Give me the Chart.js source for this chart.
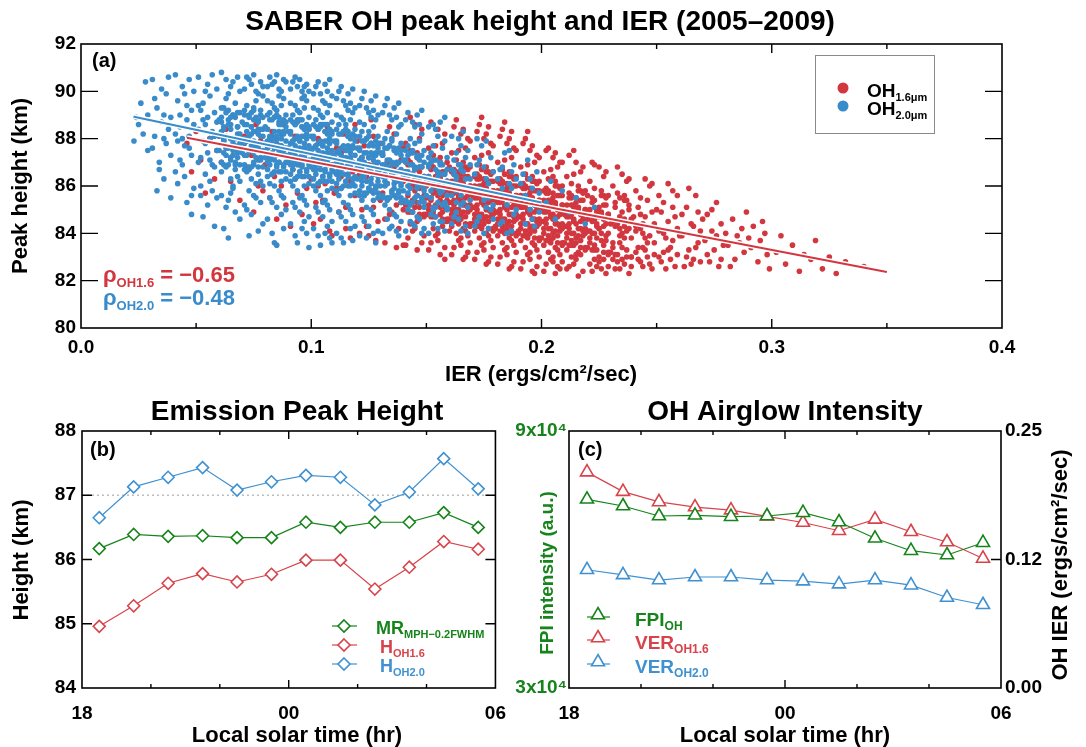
<!DOCTYPE html>
<html><head><meta charset="utf-8">
<script src="https://cdn.jsdelivr.net/npm/chart.js@4.4.1/dist/chart.umd.min.js"></script>
<style>
html,body{margin:0;padding:0;background:#fff;}
#wrap{position:relative;width:1086px;height:747px;overflow:hidden;background:#fff;}
canvas{position:absolute;}
</style></head><body><div id="wrap">
<canvas id="cA" width="1086" height="395" style="left:0;top:0"></canvas>
<canvas id="cB" width="520" height="367" style="left:0;top:380px"></canvas>
<canvas id="cC" width="574" height="367" style="left:512px;top:380px"></canvas>
</div>
<script>
// ---------------- DATA ----------------
// Panel (a): pairs of (IER in 1e-3 ergs/cm2/sec, peak height km)
const oh20Scatter = [23,87.9, 25,88.6, 26,89.5, 27,88.2, 28,90.4, 29,89.0, 29,87.5, 24,88.9,
31,90.5, 32,88.1, 33,89.3, 34,87.0, 35,88.7, 36,86.3, 37,89.9, 38,88.4, 31,87.6, 33,85.8, 35,90.1, 36,89.0, 37,87.8, 39,88.9, 34,86.7, 38,90.6, 39,87.3, 32,89.7, 36,88.0, 39,85.5,
41,88.2, 42,89.6, 43,87.1, 44,90.2, 45,86.4, 46,88.8, 47,87.6, 48,89.2, 49,85.9, 41,90.7, 42,87.9, 43,88.5, 44,86.9, 45,89.9, 46,85.3, 47,88.1, 48,87.3, 49,90.0, 41,86.6, 43,89.0, 45,87.7, 47,90.5, 48,85.6, 49,88.6, 42,86.1, 44,88.0, 46,89.4, 48,84.8,
51,88.4, 52,87.2, 53,89.5, 54,86.5, 55,90.3, 56,88.0, 57,85.8, 58,89.1, 59,87.5, 51,90.6, 52,86.0, 53,88.8, 54,87.8, 55,85.2, 56,89.8, 57,88.3, 58,86.8, 59,90.1, 51,87.0, 52,89.2, 53,84.7, 54,88.6, 55,87.4, 56,86.2, 57,90.7, 58,88.1, 59,85.5, 51,89.4, 53,87.9, 55,88.9, 57,86.9, 59,88.7, 52,85.6, 54,90.0, 56,87.1, 58,84.3,
61,88.3, 62,86.9, 63,89.7, 64,87.6, 65,85.7, 66,90.4, 67,88.0, 68,86.4, 69,89.1, 61,90.8, 62,87.9, 63,85.1, 64,88.8, 65,87.2, 66,86.0, 67,89.5, 68,88.5, 69,84.6, 61,86.6, 62,89.3, 63,88.1, 64,85.4, 65,90.2, 66,87.5, 67,86.7, 68,90.6, 69,87.8, 61,88.9, 62,84.2, 63,87.3, 64,89.9, 65,88.6, 66,85.9, 67,87.0, 68,88.2, 69,90.0, 61,85.6, 63,90.5, 65,86.3, 67,84.9, 69,86.2, 62,88.5, 64,83.8, 66,89.0, 68,87.4,
71,88.0, 72,89.4, 73,86.8, 74,90.3, 75,87.4, 76,85.5, 77,88.7, 78,86.2, 79,89.8, 71,87.3, 72,85.0, 73,88.9, 74,87.7, 75,90.7, 76,88.3, 77,86.5, 78,89.2, 79,84.4, 71,90.1, 72,87.9, 73,85.8, 74,88.5, 75,86.9, 76,89.6, 77,87.1, 78,88.1, 79,86.0, 71,85.2, 72,88.6, 73,90.5, 74,86.3, 75,88.8, 76,87.6, 77,84.1, 78,90.4, 79,87.8, 71,89.0, 72,86.6, 73,87.5, 74,84.8, 75,89.3, 76,86.1, 77,89.9, 78,87.2, 79,88.4, 71,86.7, 72,90.6, 73,83.9, 74,88.2, 75,85.6, 76,90.0, 77,88.4, 78,85.3, 79,90.2,
81,87.9, 82,89.1, 83,86.5, 84,90.4, 85,87.3, 86,88.6, 87,85.6, 88,89.7, 89,87.0, 81,88.4, 82,86.1, 83,89.5, 84,87.6, 85,85.1, 86,90.1, 87,88.2, 88,86.8, 89,89.0, 81,84.6, 82,88.8, 83,87.4, 84,86.0, 85,90.7, 86,87.0, 87,89.4, 88,84.2, 89,88.5, 81,90.2, 82,87.2, 83,85.3, 84,88.9, 85,88.0, 86,85.8, 87,87.7, 88,90.5, 89,86.3, 81,86.4, 82,90.6, 83,88.1, 84,83.6, 85,89.2, 86,86.6, 87,90.0, 88,87.5, 89,85.0, 81,89.6, 82,85.5, 83,90.3, 84,87.1, 85,86.9, 86,89.8, 87,84.8, 88,88.3, 89,90.4, 81,87.0, 82,88.0, 83,84.0, 84,89.3, 85,87.8, 86,88.9, 87,86.2, 88,85.5, 89,87.6, 85,83.5, 87,88.7,
91,87.8, 92,89.0, 93,86.3, 94,90.2, 95,87.2, 96,88.5, 97,85.4, 98,89.6, 99,86.9, 91,88.3, 92,86.0, 93,89.4, 94,87.5, 95,84.9, 96,90.0, 97,88.1, 98,86.6, 99,88.9, 91,84.4, 92,88.7, 93,87.3, 94,85.8, 95,90.5, 96,86.9, 97,89.3, 98,84.0, 99,88.4, 91,90.1, 92,87.1, 93,85.1, 94,88.8, 95,87.9, 96,85.6, 97,87.6, 98,90.3, 99,86.1, 91,86.2, 92,90.4, 93,88.0, 94,83.6, 95,89.1, 96,86.4, 97,89.8, 98,87.4, 99,84.7, 91,89.5, 92,85.3, 93,90.6, 94,86.9, 95,86.6, 96,89.7, 97,84.5, 98,88.2, 99,90.0, 91,86.9, 92,87.9, 93,83.9, 94,89.2, 95,87.6, 96,88.8, 97,86.0, 98,85.2, 99,87.5, 93,88.6, 95,85.5, 97,90.2, 99,83.4, 94,87.0, 96,84.2,
101,87.6, 102,88.8, 103,86.1, 104,89.9, 105,87.0, 106,88.3, 107,85.2, 108,89.4, 109,86.7, 101,88.1, 102,85.8, 103,89.2, 104,87.3, 105,84.7, 106,90.3, 107,87.9, 108,86.4, 109,88.7, 101,84.2, 102,88.5, 103,87.1, 104,85.6, 105,89.6, 106,86.7, 107,89.1, 108,83.8, 109,88.2, 101,89.9, 102,86.9, 103,84.9, 104,88.6, 105,87.7, 106,85.4, 107,87.4, 108,90.5, 109,85.9, 101,86.0, 102,90.2, 103,87.8, 104,83.5, 105,88.9, 106,86.2, 107,90.0, 108,87.2, 109,84.5, 101,89.3, 102,85.1, 103,90.4, 104,86.7, 105,86.4, 106,89.5, 107,84.3, 108,88.0, 109,89.8, 101,86.7, 102,87.7, 103,83.9, 104,89.0, 105,87.4, 106,88.6, 107,85.8, 108,85.0, 109,87.3, 103,88.4, 105,85.3, 107,88.6, 109,83.6, 104,86.9, 106,84.0,
111,87.4, 112,88.6, 113,85.9, 114,89.6, 115,86.8, 116,88.1, 117,85.0, 118,89.1, 119,86.4, 111,87.9, 112,85.6, 113,88.9, 114,87.1, 115,84.5, 116,89.9, 117,87.6, 118,86.1, 119,88.4, 111,84.0, 112,88.2, 113,86.9, 114,85.3, 115,89.4, 116,86.5, 117,88.8, 118,83.7, 119,87.9, 111,89.7, 112,86.7, 113,84.7, 114,88.3, 115,87.5, 116,85.2, 117,87.2, 118,90.1, 119,85.7, 111,85.8, 112,90.0, 113,87.6, 114,83.6, 115,88.6, 116,86.0, 117,89.5, 118,87.0, 119,84.3, 111,89.0, 112,84.9, 113,90.2, 114,86.5, 115,86.2, 116,89.2, 117,84.2, 118,87.7, 119,89.3, 111,86.5, 112,87.4, 113,83.8, 114,88.8, 115,87.2, 116,88.3, 117,85.6, 118,84.8,
121,87.1, 122,88.3, 123,85.7, 124,89.3, 125,86.6, 126,87.8, 127,84.8, 128,88.8, 129,86.2, 121,87.6, 122,85.4, 123,88.6, 124,86.9, 125,84.3, 126,89.6, 127,87.3, 128,85.9, 129,88.1, 121,83.9, 122,87.9, 123,86.6, 124,85.1, 125,89.1, 126,86.3, 127,88.5, 128,83.6, 129,87.6, 121,89.4, 122,86.4, 123,84.5, 124,88.0, 125,87.2, 126,85.0, 127,86.9, 128,89.8, 129,85.5, 121,85.6, 122,89.7, 123,87.4, 124,83.8, 125,88.3, 126,85.8, 127,89.2, 128,86.8, 129,84.1, 121,88.7, 122,84.7, 123,90.0, 124,86.2, 125,85.9, 126,88.9, 127,84.0, 128,87.4, 129,89.0, 123,87.9, 125,87.7, 127,85.4, 129,86.6,
131,86.9, 132,88.0, 133,85.5, 134,89.0, 135,86.4, 136,87.5, 137,84.7, 138,88.5, 139,86.0, 131,87.4, 132,85.2, 133,88.3, 134,86.7, 135,84.3, 136,89.3, 137,87.0, 138,85.7, 139,87.8, 131,84.0, 132,87.6, 133,86.4, 134,85.0, 135,88.8, 136,86.1, 137,88.2, 138,83.9, 139,87.3, 131,89.1, 132,86.2, 133,84.6, 134,87.7, 135,87.0, 136,84.8, 137,86.6, 138,89.5, 139,85.3, 131,85.5, 132,89.4, 133,87.1, 134,84.2, 135,88.0, 136,85.6, 137,88.9, 138,86.6, 139,84.5, 133,89.7, 135,85.8, 137,84.1, 139,88.6,
141,86.6, 142,87.7, 143,85.3, 144,88.7, 145,86.2, 146,87.2, 147,84.6, 148,88.2, 149,85.8, 141,87.1, 142,85.0, 143,88.0, 144,86.5, 145,84.3, 146,89.0, 147,86.8, 148,85.5, 149,87.5, 141,84.1, 142,87.3, 143,86.2, 144,84.9, 145,88.5, 146,85.9, 147,87.9, 148,84.0, 149,87.0, 141,88.8, 142,86.0, 143,84.5, 144,87.4, 145,86.8, 146,84.7, 147,86.3, 148,89.2, 149,85.1, 141,85.3, 142,89.1, 143,86.9, 144,84.4, 145,87.8, 147,88.6, 149,84.2,
151,86.4, 152,87.4, 153,85.1, 154,88.4, 155,85.9, 156,86.9, 157,84.5, 158,87.9, 159,85.6, 151,86.9, 152,84.8, 153,87.7, 154,86.2, 155,84.2, 156,88.7, 157,86.5, 158,85.3, 159,87.2, 151,84.0, 152,87.0, 153,86.0, 154,84.7, 155,88.1, 156,85.7, 157,87.6, 158,84.1, 159,86.7, 151,88.5, 152,85.8, 153,84.4, 154,87.1, 155,86.6, 156,84.5, 157,86.1, 158,88.9, 159,85.0, 153,88.6, 157,85.2,
161,86.1, 162,87.1, 163,84.9, 164,88.0, 165,85.6, 166,86.6, 167,84.3, 168,87.5, 169,85.4, 161,86.7, 162,84.7, 163,87.4, 164,86.0, 165,84.1, 166,88.3, 167,86.3, 168,85.1, 169,86.9, 161,84.4, 162,86.5, 163,85.8, 164,84.6, 165,87.7, 166,85.3, 167,87.2, 168,84.0, 169,86.3, 161,88.1, 163,86.4, 165,86.9,
171,85.9, 172,86.9, 173,84.7, 174,87.7, 175,85.4, 176,86.3, 177,84.2, 178,87.2, 179,85.2, 171,86.5, 172,84.5, 173,87.1, 174,85.8, 175,84.0, 176,87.9, 177,86.1, 178,85.0, 179,86.6, 171,84.3, 173,85.9, 175,86.8, 177,85.5, 179,84.6, 172,88.0, 176,85.1,
181,85.7, 182,86.7, 183,84.5, 184,87.4, 185,85.2, 186,86.1, 187,84.1, 188,86.9, 189,85.0, 181,86.3, 182,84.4, 183,86.8, 184,85.6, 185,84.0, 186,87.5, 187,85.9, 188,84.8, 189,86.3, 183,85.9, 187,86.6,
191,85.5, 192,86.5, 193,84.4, 194,87.1, 195,85.0, 196,85.9, 197,84.3, 198,86.6, 199,84.9, 191,86.1, 193,85.6, 195,86.3, 197,85.2, 199,85.7, 196,84.6,
202,85.3, 204,86.2, 206,84.6, 209,85.8, 212,84.9, 215,85.5, 219,84.4, 223,85.1,
60,88.1, 61,88.7, 62,87.4, 63,89.1, 64,86.9, 65,88.4, 66,87.8, 67,88.9, 68,87.2, 69,88.2, 60,87.5, 61,89.3, 62,88.0, 63,86.8, 64,88.6, 65,87.1, 66,89.0, 67,87.7, 68,88.5, 69,86.9, 60,88.8, 61,87.0, 62,88.4, 63,87.6, 64,89.2, 65,88.0, 66,87.3, 67,86.9, 68,89.1, 69,87.6, 62,87.9, 65,88.9,
70,88.0, 71,88.6, 72,87.3, 73,89.0, 74,86.8, 75,88.3, 76,87.7, 77,88.8, 78,87.1, 79,88.1, 70,87.4, 71,89.2, 72,87.9, 73,86.7, 74,88.5, 75,87.0, 76,88.9, 77,87.6, 78,88.4, 79,86.8, 70,88.7, 71,86.9, 72,88.3, 73,87.5, 74,89.1, 75,87.9, 76,87.2, 77,86.8, 78,89.0, 79,87.5, 71,87.8, 73,88.1, 75,89.2, 77,88.2, 79,88.9,
80,87.8, 81,88.4, 82,87.1, 83,88.8, 84,86.6, 85,88.1, 86,87.5, 87,88.6, 88,86.9, 89,87.9, 80,87.2, 81,89.0, 82,87.7, 83,86.5, 84,88.3, 85,86.8, 86,88.7, 87,87.4, 88,88.2, 89,86.6, 80,88.5, 81,86.7, 82,88.1, 83,87.3, 84,88.9, 85,87.7, 86,87.0, 87,86.6, 88,88.8, 89,87.3, 81,87.6, 83,87.9, 85,89.0, 87,88.0, 89,88.7, 82,86.9, 86,88.3, 88,87.6,
90,87.6, 91,88.2, 92,86.9, 93,88.6, 94,86.4, 95,87.9, 96,87.3, 97,88.4, 98,86.7, 99,87.7, 90,87.0, 91,88.8, 92,87.5, 93,86.3, 94,88.1, 95,86.6, 96,88.5, 97,87.2, 98,88.0, 99,86.4, 90,88.3, 91,86.5, 92,87.9, 93,87.1, 94,88.7, 95,87.5, 96,86.8, 97,86.4, 98,88.6, 99,87.1, 91,87.4, 93,87.7, 95,88.8, 97,87.8, 99,88.5, 92,86.7, 96,88.1, 98,87.4,
100,87.4, 101,88.0, 102,86.7, 103,88.4, 104,86.2, 105,87.7, 106,87.1, 107,88.2, 108,86.5, 109,87.5, 100,86.8, 101,88.6, 102,87.3, 103,86.1, 104,87.9, 105,86.4, 106,88.3, 107,87.0, 108,87.8, 109,86.2, 100,88.1, 101,86.3, 102,87.7, 103,86.9, 104,88.5, 105,87.3, 106,86.6, 107,86.2, 108,88.4, 109,86.9, 101,87.2, 103,87.5, 105,88.6, 107,87.6, 109,88.3, 102,86.5, 106,87.9, 108,87.2,
110,87.2, 111,87.8, 112,86.5, 113,88.2, 114,86.0, 115,87.5, 116,86.9, 117,88.0, 118,86.3, 119,87.3, 110,86.6, 111,88.4, 112,87.1, 113,85.9, 114,87.7, 115,86.2, 116,88.1, 117,86.8, 118,87.6, 119,86.0, 110,87.9, 111,86.1, 112,87.5, 113,86.7, 114,88.3, 115,87.1, 116,86.4, 117,86.0, 118,88.2, 119,86.7, 111,87.0, 113,87.3, 115,88.4, 117,87.4, 119,88.1, 112,86.3, 116,87.7, 118,87.0,
120,86.9, 121,87.5, 122,86.2, 123,87.9, 124,85.7, 125,87.2, 126,86.6, 127,87.7, 128,86.0, 129,87.0, 120,86.3, 121,88.1, 122,86.8, 123,85.6, 124,87.4, 125,85.9, 126,87.8, 127,86.5, 128,87.3, 129,85.7, 120,87.6, 121,85.8, 122,87.2, 123,86.4, 124,88.0, 125,86.8, 126,86.1, 127,85.7, 128,87.9, 129,86.4, 121,86.7, 123,87.0, 125,88.1, 127,87.1, 129,87.8, 122,86.0, 126,87.4,
130,86.7, 131,87.3, 132,86.0, 133,87.6, 134,85.5, 135,86.9, 136,86.3, 137,87.4, 138,85.8, 139,86.7, 130,86.0, 131,87.8, 132,86.5, 133,85.4, 134,87.1, 135,85.7, 136,87.6, 137,86.2, 138,87.0, 139,85.5, 130,87.4, 131,85.6, 132,86.9, 133,86.1, 134,87.7, 135,86.5, 136,85.9, 137,85.5, 138,87.6, 139,86.1, 131,86.4, 133,86.8, 135,87.9, 137,86.9, 139,87.5,
140,86.4, 141,87.0, 142,85.7, 143,87.4, 144,85.3, 145,86.7, 146,86.1, 147,87.1, 148,85.5, 149,86.4, 140,85.8, 141,87.5, 142,86.3, 143,85.2, 144,86.9, 145,85.5, 146,87.3, 147,86.0, 148,86.8, 149,85.3, 140,87.1, 141,85.4, 142,86.6, 143,85.9, 144,87.5, 145,86.2, 146,85.6, 147,85.3, 148,87.3, 149,85.9,
150,86.2, 151,86.8, 152,85.5, 153,87.1, 154,85.1, 155,86.4, 156,85.8, 157,86.9, 158,85.3, 159,86.2, 150,85.6, 151,87.2, 152,86.1, 153,85.0, 154,86.7, 155,85.3, 156,87.0, 157,85.8, 158,86.5, 159,85.1, 161,86.0, 162,86.6, 163,85.3, 164,86.9, 165,85.2, 161,85.6, 163,86.3, 165,86.7];

const oh16Scatter = [46,87.8, 48,86.6, 50,88.3, 52,87.1, 54,85.7, 56,88.0, 58,86.3, 59,87.5,
61,87.0, 63,88.4, 65,86.2, 67,87.6, 69,85.4, 71,88.1, 72,86.8, 74,87.3, 75,84.9, 76,88.6, 77,86.0, 78,87.9, 79,85.8, 80,86.9,
81,87.2, 82,85.5, 83,88.3, 84,86.4, 85,84.6, 86,87.7, 87,86.0, 88,88.6, 89,85.2, 90,87.0, 91,84.3, 92,86.7, 93,88.1, 94,85.7, 95,86.9, 96,84.8, 97,87.5, 98,85.9, 99,88.4, 100,86.3,
101,86.8, 102,85.3, 103,88.0, 104,84.6, 105,87.2, 106,86.1, 107,88.5, 108,84.1, 109,86.9, 110,85.7, 111,87.6, 112,84.9, 113,86.4, 114,88.2, 115,85.1, 116,87.0, 117,83.8, 118,86.6, 119,85.6, 120,87.9, 101,84.4, 103,86.0, 105,85.4, 107,86.9, 109,83.9, 111,85.9, 113,87.4, 115,84.2, 117,86.2, 119,88.6,
121,86.5, 122,85.0, 123,87.7, 124,84.3, 125,86.9, 126,85.8, 127,88.1, 128,83.7, 129,86.6, 130,85.4, 131,87.3, 132,84.6, 133,86.1, 134,88.5, 135,84.9, 136,86.8, 137,83.4, 138,86.3, 139,85.3, 140,87.6, 121,84.0, 122,87.2, 123,85.6, 124,86.4, 125,83.9, 126,88.8, 127,85.1, 128,86.9, 129,84.5, 130,87.8, 131,85.7, 132,83.6, 133,87.0, 134,84.8, 135,86.5, 136,88.2, 137,85.2, 138,84.2, 139,87.1, 140,83.5,
141,86.3, 142,84.9, 143,87.5, 144,84.1, 145,86.7, 146,85.6, 147,88.0, 148,83.6, 149,86.4, 141,85.2, 142,87.1, 143,84.4, 144,86.0, 145,88.6, 146,83.3, 147,85.9, 148,86.8, 149,84.7, 141,87.8, 142,83.8, 143,86.2, 144,85.4, 145,84.2, 146,87.4, 147,84.8, 148,88.4, 149,85.6, 141,83.5, 143,88.9, 145,85.1, 147,86.6, 149,83.9, 142,86.5, 146,84.5,
151,86.1, 152,84.7, 153,87.3, 154,83.9, 155,86.5, 156,85.4, 157,87.8, 158,83.4, 159,86.2, 151,85.0, 152,86.9, 153,84.2, 154,85.8, 155,88.4, 156,83.1, 157,85.7, 158,86.6, 159,84.5, 151,87.6, 152,83.6, 153,86.0, 154,85.2, 155,84.0, 156,87.2, 157,84.6, 158,88.2, 159,85.4, 151,83.3, 152,88.7, 153,84.9, 154,86.4, 155,83.7, 156,86.3, 157,84.3, 158,85.1, 159,87.0, 152,85.5, 154,87.7, 156,84.8, 158,82.9, 160,86.8, 160,84.1, 155,85.9,
161,85.9, 162,84.5, 163,87.1, 164,83.7, 165,86.3, 166,85.2, 167,87.6, 168,83.2, 169,86.0, 161,84.8, 162,86.7, 163,84.0, 164,85.6, 165,88.2, 166,82.9, 167,85.5, 168,86.4, 169,84.3, 161,87.4, 162,83.4, 163,85.8, 164,85.0, 165,83.8, 166,87.0, 167,84.4, 168,88.0, 169,85.2, 161,83.1, 162,88.5, 163,84.7, 164,86.2, 165,83.5, 166,86.1, 167,84.1, 168,84.9, 169,86.8, 161,85.3, 162,85.4, 163,86.5, 164,87.5, 165,84.6, 166,84.2, 167,86.8, 168,85.8, 169,83.6, 161,86.6, 163,88.8, 165,85.6, 167,83.0, 169,87.9, 162,86.0, 164,84.4, 166,88.4, 168,83.9, 170,85.7,
171,85.7, 172,84.3, 173,86.9, 174,83.5, 175,86.1, 176,85.0, 177,87.4, 178,83.0, 179,85.8, 171,84.6, 172,86.5, 173,83.8, 174,85.4, 175,88.0, 176,82.7, 177,85.3, 178,86.2, 179,84.1, 171,87.2, 172,83.2, 173,85.6, 174,84.8, 175,83.6, 176,86.8, 177,84.2, 178,87.8, 179,85.0, 171,82.9, 172,88.3, 173,84.5, 174,86.0, 175,83.3, 176,85.9, 177,83.9, 178,84.7, 179,86.6, 171,85.1, 172,85.2, 173,86.3, 174,87.3, 175,84.4, 176,84.0, 177,86.6, 178,85.6, 179,83.4, 171,86.4, 173,88.6, 175,85.4, 177,82.8, 179,87.7, 172,85.9, 174,84.2, 176,88.2, 178,83.7, 180,85.5, 174,88.9, 177,88.5, 180,84.3,
181,85.5, 182,84.1, 183,86.7, 184,83.3, 185,85.9, 186,84.8, 187,87.2, 188,82.8, 189,85.6, 181,84.4, 182,86.3, 183,83.6, 184,85.2, 185,87.8, 186,82.5, 187,85.1, 188,86.0, 189,83.9, 181,87.0, 182,83.0, 183,85.4, 184,84.6, 185,83.4, 186,86.6, 187,84.0, 188,87.6, 189,84.8, 181,82.7, 182,88.1, 183,84.3, 184,85.8, 185,83.1, 186,85.7, 187,83.7, 188,84.5, 189,86.4, 181,84.9, 182,85.0, 183,86.1, 184,87.1, 185,84.2, 186,83.8, 187,86.4, 188,85.4, 189,83.2, 181,86.2, 183,88.4, 185,85.2, 187,82.6, 189,87.5, 182,85.7, 184,84.0, 186,88.0, 188,83.5, 190,85.3, 184,88.7, 187,88.3, 190,84.1,
191,85.3, 192,83.9, 193,86.5, 194,83.1, 195,85.7, 196,84.6, 197,87.0, 198,82.6, 199,85.4, 191,84.2, 192,86.1, 193,83.4, 194,85.0, 195,87.5, 196,82.4, 197,84.9, 198,85.8, 199,83.7, 191,86.8, 192,82.8, 193,85.2, 194,84.4, 195,83.2, 196,86.4, 197,83.8, 198,87.3, 199,84.6, 191,82.5, 192,87.8, 193,84.1, 194,85.6, 195,82.9, 196,85.5, 197,83.5, 198,84.3, 199,86.2, 191,84.7, 192,84.8, 193,85.9, 194,86.9, 195,84.0, 196,83.6, 197,86.2, 198,85.2, 199,83.0, 191,86.0, 193,88.0, 195,85.0, 197,82.3, 199,87.2, 192,85.5, 194,83.8, 196,87.7, 198,83.3, 200,85.1, 194,88.3,
201,85.1, 202,83.7, 203,86.3, 204,82.9, 205,85.5, 206,84.4, 207,86.8, 208,82.5, 209,85.2, 201,84.0, 202,85.9, 203,83.2, 204,84.8, 205,87.2, 206,82.3, 207,84.7, 208,85.6, 209,83.5, 201,86.6, 202,82.7, 203,85.0, 204,84.2, 205,83.0, 206,86.2, 207,83.6, 208,87.0, 209,84.4, 201,82.4, 202,87.5, 203,83.9, 204,85.4, 205,82.8, 206,85.3, 207,83.3, 208,84.1, 209,86.0, 201,84.5, 202,84.6, 203,85.7, 204,86.7, 205,83.8, 206,83.4, 207,86.0, 208,85.0, 209,82.8, 201,85.8, 203,87.6, 205,84.8, 207,82.6, 209,87.0, 202,85.3, 204,83.6, 206,87.4, 208,83.1, 210,84.9, 205,86.4,
211,84.9, 212,83.5, 213,86.1, 214,82.7, 215,85.3, 216,84.2, 217,86.6, 218,82.4, 219,85.0, 211,83.8, 212,85.7, 213,83.0, 214,84.6, 215,87.0, 216,82.2, 217,84.5, 218,85.4, 219,83.3, 211,86.4, 212,82.6, 213,84.8, 214,84.0, 215,82.9, 216,86.0, 217,83.4, 218,86.8, 219,84.2, 211,82.5, 212,87.3, 213,83.7, 214,85.2, 215,83.1, 216,85.1, 217,83.1, 218,83.9, 219,85.8, 211,84.3, 212,84.4, 213,85.5, 214,86.5, 215,83.6, 216,83.2, 217,85.8, 218,84.8, 220,85.6, 214,87.5,
221,84.7, 222,83.3, 223,85.9, 224,82.6, 225,85.1, 226,84.0, 227,86.4, 228,82.3, 229,84.8, 221,83.6, 222,85.5, 223,82.9, 224,84.4, 225,86.8, 226,82.5, 227,84.3, 228,85.2, 229,83.1, 221,86.2, 222,82.4, 223,84.6, 224,83.8, 225,82.8, 226,85.8, 227,83.2, 228,86.6, 229,84.0, 221,82.7, 222,87.0, 223,83.5, 224,85.0, 225,83.0, 226,84.9, 227,82.9, 228,83.7, 229,85.6, 221,84.1, 223,86.9, 225,84.2, 227,85.6, 229,82.6,
231,84.5, 232,83.1, 233,85.7, 234,82.5, 235,84.9, 236,83.8, 237,86.2, 238,82.3, 239,84.6, 231,83.4, 232,85.3, 233,82.8, 234,84.2, 235,86.5, 236,82.7, 237,84.1, 238,85.0, 239,83.0, 231,86.0, 232,82.5, 233,84.4, 234,83.6, 235,82.9, 236,85.6, 237,83.0, 238,86.3, 239,83.8, 231,82.9, 233,86.8, 235,83.4, 237,85.4, 239,82.6, 240,84.7, 234,85.5, 236,84.3,
241,84.3, 242,82.9, 243,85.5, 244,82.6, 245,84.7, 246,83.6, 247,86.0, 248,82.5, 249,84.4, 241,83.2, 242,85.1, 243,82.8, 244,84.0, 245,86.3, 246,83.0, 247,83.9, 248,84.9, 249,83.1, 241,85.8, 243,84.2, 244,83.4, 246,85.4, 247,82.7, 248,86.1, 249,83.6, 250,85.0, 245,83.3,
251,84.1, 252,82.8, 253,85.3, 254,82.5, 255,84.5, 256,83.4, 257,85.8, 258,82.6, 259,84.2, 251,83.0, 252,84.9, 253,83.2, 254,83.8, 255,86.1, 256,82.9, 257,83.7, 258,84.7, 259,83.1, 251,85.6, 253,84.0, 255,83.3, 257,85.1, 259,85.6, 260,83.9,
261,83.9, 262,82.6, 263,85.1, 264,83.3, 265,84.4, 266,82.9, 267,85.6, 268,83.6, 269,84.1, 261,84.8, 263,83.0, 264,85.9, 265,82.7, 266,84.3, 267,83.4, 268,84.9, 269,82.8, 270,84.6,
271,83.7, 272,84.8, 273,82.8, 274,84.1, 275,83.3, 276,85.3, 277,82.6, 278,84.4, 279,83.5, 272,83.1, 274,85.0, 276,83.9, 278,82.9, 280,84.0,
281,83.5, 283,84.6, 284,82.9, 285,83.9, 287,84.2, 288,83.2, 289,84.9, 282,82.6, 286,83.6, 290,83.8,
291,83.4, 292,84.3, 294,82.8, 295,83.7, 297,84.0, 298,83.1, 299,82.5, 296,84.5,
302,83.2, 304,83.9, 306,82.7, 309,83.5, 312,82.4, 314,83.1, 317,82.9, 319,83.7,
322,82.5, 325,83.0, 328,82.3, 332,82.8, 340,82.6,
140,86.2, 141,85.4, 142,86.9, 143,84.9, 144,86.5, 145,85.8, 146,87.2, 147,85.1, 148,86.0, 149,84.8, 140,85.0, 141,86.6, 142,85.6, 143,87.0, 144,84.9, 145,86.3, 146,85.3, 147,86.8, 148,85.5, 149,86.4,
150,86.0, 151,85.2, 152,86.7, 153,84.7, 154,86.3, 155,85.6, 156,87.0, 157,84.9, 158,85.8, 159,84.6, 150,84.8, 151,86.4, 152,85.4, 153,86.8, 154,84.7, 155,86.1, 156,85.1, 157,86.6, 158,85.3, 159,86.2, 150,85.5, 152,84.9, 154,85.9, 156,86.4, 158,84.5, 153,85.7, 157,85.6,
160,85.8, 161,85.0, 162,86.5, 163,84.5, 164,86.1, 165,85.4, 166,86.8, 167,84.7, 168,85.6, 169,84.4, 160,84.6, 161,86.2, 162,85.2, 163,86.6, 164,84.5, 165,85.9, 166,84.9, 167,86.4, 168,85.1, 169,86.0, 160,85.3, 161,84.3, 162,85.7, 163,86.2, 164,85.5, 165,84.8, 166,86.0, 167,85.2, 168,86.7, 169,85.0, 161,85.7, 163,85.0, 165,86.5, 167,85.8,
170,85.6, 171,84.8, 172,86.3, 173,84.3, 174,85.9, 175,85.2, 176,86.6, 177,84.5, 178,85.4, 179,84.2, 170,84.4, 171,86.0, 172,85.0, 173,86.4, 174,84.3, 175,85.7, 176,84.7, 177,86.2, 178,84.9, 179,85.8, 170,85.1, 171,84.1, 172,85.5, 173,86.0, 174,85.3, 175,84.6, 176,85.8, 177,85.0, 178,86.5, 179,84.8, 171,85.5, 173,84.8, 175,86.3, 177,85.6, 179,86.2, 174,86.7,
180,85.4, 181,84.6, 182,86.1, 183,84.1, 184,85.7, 185,85.0, 186,86.4, 187,84.3, 188,85.2, 189,84.0, 180,84.2, 181,85.8, 182,84.8, 183,86.2, 184,84.1, 185,85.5, 186,84.5, 187,86.0, 188,84.7, 189,85.6, 180,84.9, 181,83.9, 182,85.3, 183,85.8, 184,85.1, 185,84.4, 186,85.6, 187,84.8, 188,86.3, 189,84.6, 181,85.3, 183,84.6, 185,86.1, 187,85.4, 189,86.0, 184,86.5,
190,85.2, 191,84.4, 192,85.9, 193,83.9, 194,85.5, 195,84.8, 196,86.2, 197,84.1, 198,85.0, 199,83.8, 190,84.0, 191,85.6, 192,84.6, 193,86.0, 194,83.9, 195,85.3, 196,84.3, 197,85.8, 198,84.5, 199,85.4, 190,84.7, 191,83.7, 192,85.1, 193,85.6, 194,84.9, 195,84.2, 196,85.4, 197,84.6, 198,86.1, 199,84.4, 191,85.1, 193,84.4, 195,85.9, 197,85.2, 199,85.8, 194,86.3,
200,85.0, 201,84.2, 202,85.7, 203,83.7, 204,85.3, 205,84.6, 206,86.0, 207,83.9, 208,84.8, 209,83.6, 200,83.8, 201,85.4, 202,84.4, 203,85.8, 204,83.7, 205,85.1, 206,84.1, 207,85.6, 208,84.3, 209,85.2, 200,84.5, 201,83.5, 202,84.9, 203,85.4, 204,84.7, 205,84.0, 206,85.2, 207,84.4, 208,85.9, 209,84.2, 201,84.9, 203,84.2, 205,85.7, 207,85.0, 209,85.6,
210,84.8, 211,84.0, 212,85.5, 213,83.5, 214,85.1, 215,84.4, 216,85.8, 217,83.7, 218,84.6, 219,83.4, 210,83.6, 211,85.2, 212,84.2, 213,85.6, 214,83.5, 215,84.9, 216,83.9, 217,85.4, 218,84.1, 219,85.0, 210,84.3, 211,83.3, 212,84.7, 213,85.2, 214,84.5, 215,83.8, 216,85.0, 217,84.2, 218,85.7, 219,84.0, 211,84.7, 213,84.0, 215,85.5, 217,84.8,
220,84.6, 221,83.8, 222,85.3, 223,83.3, 224,84.9, 225,84.2, 226,85.6, 227,83.5, 228,84.4, 229,83.2, 220,83.4, 221,85.0, 222,84.0, 223,85.4, 224,83.3, 225,84.7, 226,83.7, 227,85.2, 228,83.9, 229,84.8, 220,84.1, 222,84.5, 224,84.3, 226,84.8, 228,85.5, 223,84.0, 227,84.6,
230,84.4, 231,83.6, 232,85.1, 233,83.1, 234,84.7, 235,84.0, 236,85.4, 237,83.3, 238,84.2, 239,83.0, 230,83.2, 232,84.3, 234,83.9, 236,84.6, 238,85.2, 241,84.1, 242,83.4, 243,84.8, 245,83.8, 244,84.4];

// regression lines (IER, height)
const fit16IER = [0.046, 0.35], fit16H = [88.04, 82.37];
const fit20IER = [0.023, 0.2],  fit20H = [88.93, 85.30];
const rho16 = '\u22120.65', rho20 = '\u22120.48';

// axis ticks
const ierTicks = [0, 0.1, 0.2, 0.3, 0.4];
const ierTickLabels = ['0.0', '0.1', '0.2', '0.3', '0.4'];
const ierMinorTicks = [0.05, 0.15, 0.25, 0.35];
const heightTicksA = [80, 82, 84, 86, 88, 90, 92];
const heightTicksB = [84, 85, 86, 87, 88];
const lstTicks = [18, 24, 30];
const lstTickLabels = ['18', '00', '06'];
const lstMinorTicks = [20, 22, 26, 28];
const fpiTicks = [30000, 90000];
const fpiTickLabels = ['3x10\u2074', '9x10\u2074'];
const ierRightTicks = [0, 0.125, 0.25];
const ierRightTickLabels = ['0.00', '0.12', '0.25'];

// Panels (b) and (c): local solar time (hr, 24 = midnight)
const lstHours = [18.5, 19.5, 20.5, 21.5, 22.5, 23.5, 24.5, 25.5, 26.5, 27.5, 28.5, 29.5];
const mrHeight = [86.17, 86.39, 86.36, 86.37, 86.34, 86.34, 86.58, 86.50, 86.58, 86.58, 86.73, 86.50];
const hOH16 = [84.96, 85.28, 85.63, 85.78, 85.65, 85.77, 85.99, 85.99, 85.54, 85.88, 86.28, 86.16];
const hOH20 = [86.65, 87.13, 87.28, 87.43, 87.08, 87.21, 87.31, 87.28, 86.85, 87.05, 87.57, 87.10];
const refHeight = 87;
const fpiOH = [74050, 72490, 70160, 70320, 69990, 70160, 70930, 68760, 64950, 62050, 61050, 63920];
const verOH16 = [0.210, 0.191, 0.181, 0.176, 0.173, 0.167, 0.161, 0.153, 0.164, 0.152, 0.142, 0.126];
const verOH20 = [0.115, 0.110, 0.105, 0.108, 0.108, 0.105, 0.104, 0.101, 0.105, 0.100, 0.088, 0.081];

// ---------------- STYLE ----------------
const FONT = '"Liberation Sans", Arial, Helvetica, sans-serif';
const RED = '#d2373f', BLUE = '#398bca', GREEN = '#16841a';
const RED_L = '#d8434b', BLUE_L = '#3f91d1';

const pairsFrom = (flat) => { const out = []; for (let i = 0; i < flat.length; i += 2) out.push({x: flat[i] / 1000, y: flat[i + 1]}); return out; };
const zip = (xs, ys) => xs.map((x, i) => ({x, y: ys[i]}));
const tickFont = (s) => ({family: FONT, size: s, weight: 'bold'});

function runs(ctx, x, y, parts) {
  let cx = x;
  ctx.textAlign = 'left'; ctx.textBaseline = 'alphabetic';
  for (const [t, size, dy, color] of parts) {
    ctx.font = 'bold ' + size + 'px ' + FONT; ctx.fillStyle = color;
    ctx.fillText(t, cx, y + dy);
    cx += ctx.measureText(t).width;
  }
}
function centered(ctx, t, x, y, size, color) {
  ctx.font = 'bold ' + size + 'px ' + FONT; ctx.fillStyle = color;
  ctx.textAlign = 'center'; ctx.textBaseline = 'alphabetic'; ctx.fillText(t, x, y);
}
function rotated(ctx, t, x, y, size, color) {
  ctx.save(); ctx.translate(x, y); ctx.rotate(-Math.PI / 2);
  ctx.font = 'bold ' + size + 'px ' + FONT; ctx.fillStyle = color;
  ctx.textAlign = 'center'; ctx.textBaseline = 'middle'; ctx.fillText(t, 0, 0);
  ctx.restore();
}
function diamond(ctx, x, y, r, color) {
  ctx.beginPath(); ctx.moveTo(x, y - r); ctx.lineTo(x + r, y); ctx.lineTo(x, y + r); ctx.lineTo(x - r, y); ctx.closePath();
  ctx.fillStyle = '#fff'; ctx.fill(); ctx.strokeStyle = color; ctx.lineWidth = 1.6; ctx.stroke();
}
function triangle(ctx, x, y, r, color) {
  ctx.beginPath(); ctx.moveTo(x, y - r); ctx.lineTo(x + 0.866 * r, y + 0.5 * r); ctx.lineTo(x - 0.866 * r, y + 0.5 * r); ctx.closePath();
  ctx.fillStyle = '#fff'; ctx.fill(); ctx.strokeStyle = color; ctx.lineWidth = 1.6; ctx.stroke();
}

// frame + inward ticks + annotations
function framePlugin(cfg) {
  return {
    id: 'frame',
    afterDraw(chart) {
      const ctx = chart.ctx, a = chart.chartArea;
      ctx.save();
      ctx.strokeStyle = '#000'; ctx.lineWidth = 1.6;
      ctx.strokeRect(a.left, a.top, a.right - a.left, a.bottom - a.top);
      ctx.lineWidth = 1.4; ctx.beginPath();
      const xs = chart.scales.x;
      for (const [v, l] of cfg.xt) { const p = xs.getPixelForValue(v);
        ctx.moveTo(p, a.bottom); ctx.lineTo(p, a.bottom - l); ctx.moveTo(p, a.top); ctx.lineTo(p, a.top + l); }
      for (const [v, l] of (cfg.lt || [])) { const p = chart.scales.y.getPixelForValue(v); ctx.moveTo(a.left, p); ctx.lineTo(a.left + l, p); }
      for (const [id, v, l] of (cfg.rt || [])) { const p = chart.scales[id].getPixelForValue(v); ctx.moveTo(a.right, p); ctx.lineTo(a.right - l, p); }
      ctx.stroke();
      ctx.translate(-cfg.ox, -cfg.oy);
      cfg.draw(ctx);
      ctx.restore();
    }
  };
}

const baseScaleX = (min, max, ticks, labels, h, pad) => ({
  type: 'linear', min, max,
  afterBuildTicks: s => { s.ticks = ticks.map(v => ({value: v})); },
  ticks: {callback: (v, i) => labels[i], font: tickFont(19), color: '#000', padding: pad, autoSkip: false, maxRotation: 0},
  grid: {display: false, drawTicks: false}, border: {display: false},
  afterFit: s => { s.height = h; }
});
const baseScaleY = (min, max, ticks, labels, w, pad, color, pos) => ({
  type: 'linear', min, max, position: pos || 'left',
  afterBuildTicks: s => { s.ticks = ticks.map(v => ({value: v})); },
  ticks: {callback: (v, i) => labels[i], font: tickFont(19), color: color || '#000', padding: pad, autoSkip: false},
  grid: {display: false, drawTicks: false}, border: {display: false},
  afterFit: s => { s.width = w; }
});
const common = {responsive: false, animation: false, events: [], devicePixelRatio: 1,
  plugins: {legend: {display: false}, tooltip: {enabled: false}}};

// ---------------- PANEL (a) ----------------
new Chart(document.getElementById('cA'), {
  type: 'scatter',
  data: {datasets: [
    {data: zip(fit20IER, fit20H), showLine: true, borderColor: BLUE, borderWidth: 2, pointRadius: 0, order: 0},
    {data: zip(fit20IER, fit20H), showLine: true, borderColor: '#fff', borderWidth: 5, pointRadius: 0, order: 1},
    {data: zip(fit16IER, fit16H), showLine: true, borderColor: RED, borderWidth: 2, pointRadius: 0, order: 2},
    {data: zip(fit16IER, fit16H), showLine: true, borderColor: '#fff', borderWidth: 5, pointRadius: 0, order: 3},
    {data: pairsFrom(oh20Scatter), pointRadius: 2.8, backgroundColor: BLUE, borderWidth: 0, order: 4},
    {data: pairsFrom(oh16Scatter), pointRadius: 2.8, backgroundColor: RED, borderWidth: 0, order: 5}
  ]},
  options: Object.assign({}, common, {
    layout: {padding: {left: 0, top: 44, right: 84, bottom: 0}},
    scales: {
      x: baseScaleX(0, 0.4, ierTicks, ierTickLabels, 67, 8),
      y: baseScaleY(80, 92, heightTicksA, heightTicksA.map(String), 81, 5)
    }
  }),
  plugins: [framePlugin({
    ox: 0, oy: 0,
    xt: ierTicks.slice(1, -1).map(v => [v, 9]).concat(ierMinorTicks.map(v => [v, 5])),
    lt: [82, 84, 86, 88, 90].map(v => [v, 17]),
    rt: [82, 84, 86, 88, 90].map(v => ['y', v, 17]),
    draw(ctx) {
      centered(ctx, 'SABER OH peak height and IER (2005\u20132009)', 540, 30, 28, '#000');
      centered(ctx, 'IER (ergs/cm\u00b2/sec)', 541, 381, 22, '#000');
      rotated(ctx, 'Peak height (km)', 21, 186, 22, '#000');
      runs(ctx, 92, 67, [['(a)', 20, 0, '#000']]);
      runs(ctx, 103, 282, [['\u03c1', 22, 0, RED], ['OH1.6', 13, 5, RED], [' = ' + rho16, 22, 0, RED]]);
      runs(ctx, 103, 305, [['\u03c1', 22, 0, BLUE], ['OH2.0', 13, 5, BLUE], [' = ' + rho20, 22, 0, BLUE]]);
      ctx.strokeStyle = '#8a8a8a'; ctx.lineWidth = 1; ctx.strokeRect(815.5, 55.5, 119, 78);
      ctx.fillStyle = RED; ctx.beginPath(); ctx.arc(843, 88, 5.5, 0, 2 * Math.PI); ctx.fill();
      ctx.fillStyle = BLUE; ctx.beginPath(); ctx.arc(843, 106, 5.5, 0, 2 * Math.PI); ctx.fill();
      runs(ctx, 867, 97, [['OH', 19, 0, '#000'], ['1.6\u03bcm', 11, 4, '#000']]);
      runs(ctx, 867, 115, [['OH', 19, 0, '#000'], ['2.0\u03bcm', 11, 4, '#000']]);
    }
  })]
});

// ---------------- PANEL (b) ----------------
const diamondSet = (ys, color) => ({data: zip(lstHours, ys), showLine: true, borderColor: color, borderWidth: 1.2,
  pointStyle: 'rectRot', pointRadius: 6, pointBorderColor: color, pointBackgroundColor: '#fff', pointBorderWidth: 1.6});
new Chart(document.getElementById('cB'), {
  type: 'scatter',
  data: {datasets: [
    diamondSet(hOH20, BLUE_L), diamondSet(mrHeight, GREEN), diamondSet(hOH16, RED_L),
    {data: zip([18, 30], [refHeight, refHeight]), showLine: true, borderColor: '#bdbdbd', borderWidth: 1.4, borderDash: [2, 3], pointRadius: 0, order: 10}
  ]},
  options: Object.assign({}, common, {
    layout: {padding: {left: 0, top: 51, right: 9, bottom: 0}},
    scales: {
      x: baseScaleX(18, 30, lstTicks, lstTickLabels, 59, 14),
      y: baseScaleY(84, 88, heightTicksB, heightTicksB.map(String), 82, 6)
    }
  }),
  plugins: [framePlugin({
    ox: 0, oy: 380,
    xt: [[24, 8]].concat(lstMinorTicks.map(v => [v, 4])),
    lt: [85, 86, 87].map(v => [v, 10]),
    rt: [85, 86, 87].map(v => ['y', v, 10]),
    draw(ctx) {
      centered(ctx, 'Emission Peak Height', 297, 420, 28, '#000');
      centered(ctx, 'Local solar time (hr)', 297, 742, 22, '#000');
      rotated(ctx, 'Height (km)', 22, 560, 22, '#000');
      runs(ctx, 90, 456, [['(b)', 20, 0, '#000']]);
      const leg = [[GREEN, 'MR', 'MPH\u22120.2FWHM', 376, 626], [RED_L, 'H', 'OH1.6', 380, 645], [BLUE_L, 'H', 'OH2.0', 380, 664]];
      for (const [c, m, s, tx, y] of leg) {
        ctx.strokeStyle = c; ctx.lineWidth = 1.2; ctx.beginPath(); ctx.moveTo(332, y); ctx.lineTo(357, y); ctx.stroke();
        diamond(ctx, 344, y, 6, c);
        runs(ctx, tx, y + 8, [[m, 18, 0, c], [s, 11, 4, c]]);
      }
    }
  })]
});

// ---------------- PANEL (c) ----------------
const triSet = (ys, color, axis) => ({data: zip(lstHours, ys), yAxisID: axis, showLine: true, borderColor: color, borderWidth: 1.2,
  pointStyle: 'triangle', pointRadius: 7.5, pointBorderColor: color, pointBackgroundColor: '#fff', pointBorderWidth: 1.6});
new Chart(document.getElementById('cC'), {
  type: 'scatter',
  data: {datasets: [triSet(fpiOH, GREEN, 'y'), triSet(verOH16, RED_L, 'y2'), triSet(verOH20, BLUE_L, 'y2')]},
  options: Object.assign({}, common, {
    layout: {padding: {left: 0, top: 51, right: 0, bottom: 0}},
    scales: {
      x: baseScaleX(18, 30, lstTicks, lstTickLabels, 59, 14),
      y: baseScaleY(30000, 90000, fpiTicks, fpiTickLabels, 57, 2, GREEN),
      y2: baseScaleY(0, 0.25, ierRightTicks, ierRightTickLabels, 85, 4, '#000', 'right')
    }
  }),
  plugins: [framePlugin({
    ox: 512, oy: 380,
    xt: [[24, 8]].concat(lstMinorTicks.map(v => [v, 4])),
    rt: [['y2', 0.125, 10]],
    draw(ctx) {
      centered(ctx, 'OH Airglow Intensity', 785, 420, 28, '#000');
      centered(ctx, 'Local solar time (hr)', 785, 742, 22, '#000');
      rotated(ctx, 'FPI intensity (a.u.)', 548, 573, 19, GREEN);
      rotated(ctx, 'OH IER (ergs/cm\u00b2/sec)', 1061, 565, 22, '#000');
      runs(ctx, 578, 456, [['(c)', 20, 0, '#000']]);
      const leg = [[GREEN, 'FPI', 'OH', 615], [RED_L, 'VER', 'OH1.6', 638], [BLUE_L, 'VER', 'OH2.0', 662]];
      for (const [c, m, s, y] of leg) {
        ctx.strokeStyle = c; ctx.lineWidth = 1.2; ctx.beginPath(); ctx.moveTo(587, y + 2); ctx.lineTo(610, y + 2); ctx.stroke();
        triangle(ctx, 598, y, 7.5, c);
        runs(ctx, 635, y + 11, [[m, 19, 0, c], [s, 12, 4, c]]);
      }
    }
  })]
});
</script>
</body></html>
